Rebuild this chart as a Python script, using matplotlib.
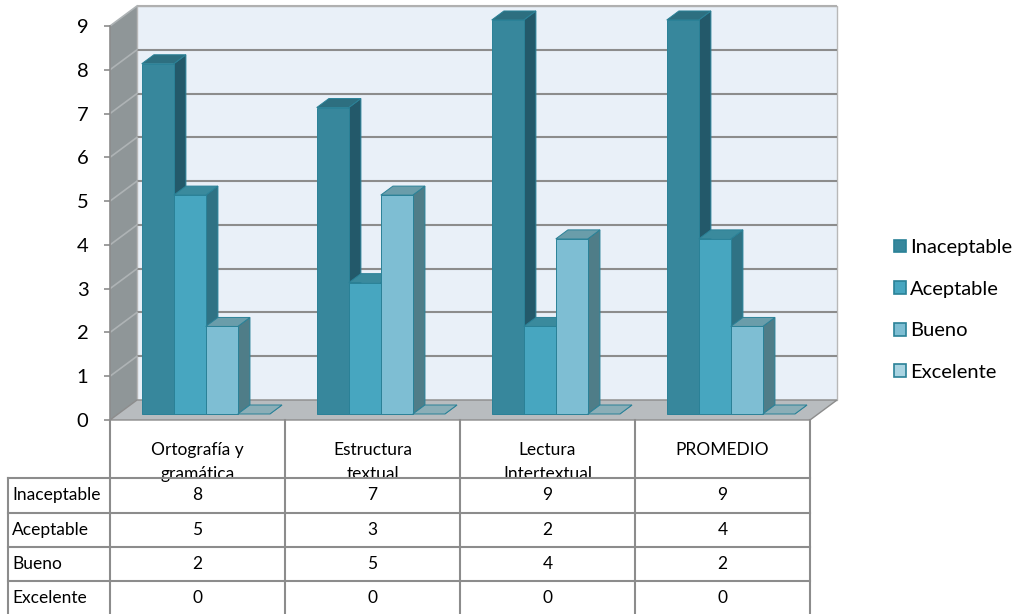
import matplotlib
matplotlib.use("Agg")
import matplotlib.pyplot as plt
from matplotlib.patches import Polygon, Rectangle, Patch

plt.rcParams['font.family'] = ['Lato', 'DejaVu Sans']

# data
categories = ["Ortografía y\ngramática", "Estructura\ntextual", "Lectura\nIntertextual", "PROMEDIO"]
series = ["Inaceptable", "Aceptable", "Bueno", "Excelente"]
inaceptable = [8, 7, 9, 9]
aceptable = [5, 3, 2, 4]
bueno = [2, 5, 4, 2]
excelente = [0, 0, 0, 0]
values = [inaceptable, aceptable, bueno, excelente]
yticks = list(range(10))

# colours per series: front, top, side
front_col = ["#37879C", "#47A6C0", "#7EBED3", "#A9D4E2"]
top_col = ["#2D6F80", "#3A8A9D", "#6A9DAA", "#8BAEB7"]
side_col = ["#23596A", "#2F7284", "#4F7D88", "#6F8E95"]
edge_col = "#2A8197"

# layout in pixels (figure is 1018 x 614)
X0_PX, CAT_PX = 110, 175
Y0_PX, UNIT_PX = 420, 43.78


def px(x):
    return (x - X0_PX) / CAT_PX


def py(y):
    return (Y0_PX - y) / UNIT_PX


fig = plt.figure(figsize=(10.18, 6.14), dpi=100)
ax = fig.add_axes([0, 0, 1, 1])
ax.set_xlim(px(0), px(1018))
ax.set_ylim(py(614), py(0))

n = len(categories)
ymax = 9
DX, DY = 27 / CAT_PX, 20 / UNIT_PX  # floor depth
d0, d1 = 0.3, 0.75                  # bar depth span
off, w = 0.135, 0.183               # bar offset / width in category units

# side wall, back wall, floor
ax.add_patch(Polygon([(0, 0), (DX, DY), (DX, ymax + DY), (0, ymax)],
                     closed=True, fc="#8F9698", ec="none", zorder=1))
ax.add_patch(Rectangle((DX, DY), n, ymax, fc="#E9F0F8", ec="#B8B8B8", lw=1, zorder=1))
ax.add_patch(Polygon([(0, 0), (n, 0), (n + DX, DY), (DX, DY)],
                     closed=True, fc="#B8BCBF", ec="#8C8C8C", lw=1, zorder=2))
for t in yticks[1:]:
    ax.plot([DX, n + DX], [t + DY, t + DY], color="#8C8C8C" if t < ymax else "#B0B0B0",
            lw=1.5, zorder=1.5, solid_capstyle="butt")
    ax.plot([0, DX], [t, t + DY], color="#AEB3B5", lw=1.2, zorder=1.5)

# bars
for i in range(n):
    for j, vals in enumerate(values):
        v = vals[i]
        x0 = i + off + j * w
        fx = x0 + d0 * DX
        bx = x0 + d1 * DX
        zb = 3 + i + j * 0.1
        ax.add_patch(Polygon([(fx + w, d0 * DY), (bx + w, d1 * DY),
                              (bx + w, v + d1 * DY), (fx + w, v + d0 * DY)],
                             closed=True, fc=side_col[j], ec=edge_col, lw=0.7, zorder=zb))
        ax.add_patch(Polygon([(fx, v + d0 * DY), (fx + w, v + d0 * DY),
                              (bx + w, v + d1 * DY), (bx, v + d1 * DY)],
                             closed=True, fc=top_col[j], ec=edge_col, lw=0.7, zorder=zb))
        if v > 0:
            ax.add_patch(Rectangle((fx, d0 * DY), w, v, fc=front_col[j],
                                   ec=edge_col, lw=0.7, zorder=zb))

# y axis
ax.spines[['top', 'right', 'bottom']].set_visible(False)
ax.spines['left'].set_position(('data', 0))
ax.spines['left'].set_bounds(0, ymax)
ax.spines['left'].set_color("#8C8C8C")
ax.spines['left'].set_linewidth(1.2)
ax.set_yticks(yticks)
ax.set_xticks([])
ax.tick_params(axis='y', length=4.5, width=1.2, color="#8C8C8C", pad=11,
               labelsize=14.5, labelcolor="black")
ax.set_zorder(1)

# data table
tcol = "#8C8C8C"
row_y = [478, 512.5, 547, 581, 615]
left_px = 8
for i in range(n + 1):
    ax.plot([i, i], [0, py(614)], color=tcol, lw=1.5, zorder=2, clip_on=False)
ax.plot([px(left_px), px(left_px)], [py(row_y[0]), py(614)], color=tcol, lw=1.5, zorder=2)
for yy in row_y[:-1]:
    ax.plot([px(left_px), n], [py(yy), py(yy)], color=tcol, lw=1.5, zorder=2)

header_clip = Rectangle((0, py(row_y[0])), n, py(Y0_PX) - py(row_y[0]),
                        transform=ax.transData, visible=False)
for i, cat in enumerate(categories):
    txt = ax.text(i + 0.5, py(442), cat, ha='center', va='top', fontsize=12.5,
                  linespacing=1.6, zorder=1.8)
    txt.set_clip_path(header_clip)
    for r, vals in enumerate(values):
        yc = (row_y[r] + row_y[r + 1]) / 2
        ax.text(i + 0.5, py(yc), str(vals[i]), ha='center', va='center', fontsize=12.5)
for r, name in enumerate(series):
    yc = (row_y[r] + row_y[r + 1]) / 2
    ax.text(px(12), py(yc), name, ha='left', va='center', fontsize=12.5)

# legend
handles = [Patch(fc=front_col[j], ec=edge_col, lw=1.2) for j in range(len(series))]
fig.legend(handles, series, loc='center left', bbox_to_anchor=(884 / 1018, 1 - 310 / 614),
           frameon=False, fontsize=14.5, handlelength=0.6, handleheight=0.6,
           handletextpad=0.2, labelspacing=1.22, borderpad=0)

fig.savefig("out.png", dpi=100)
